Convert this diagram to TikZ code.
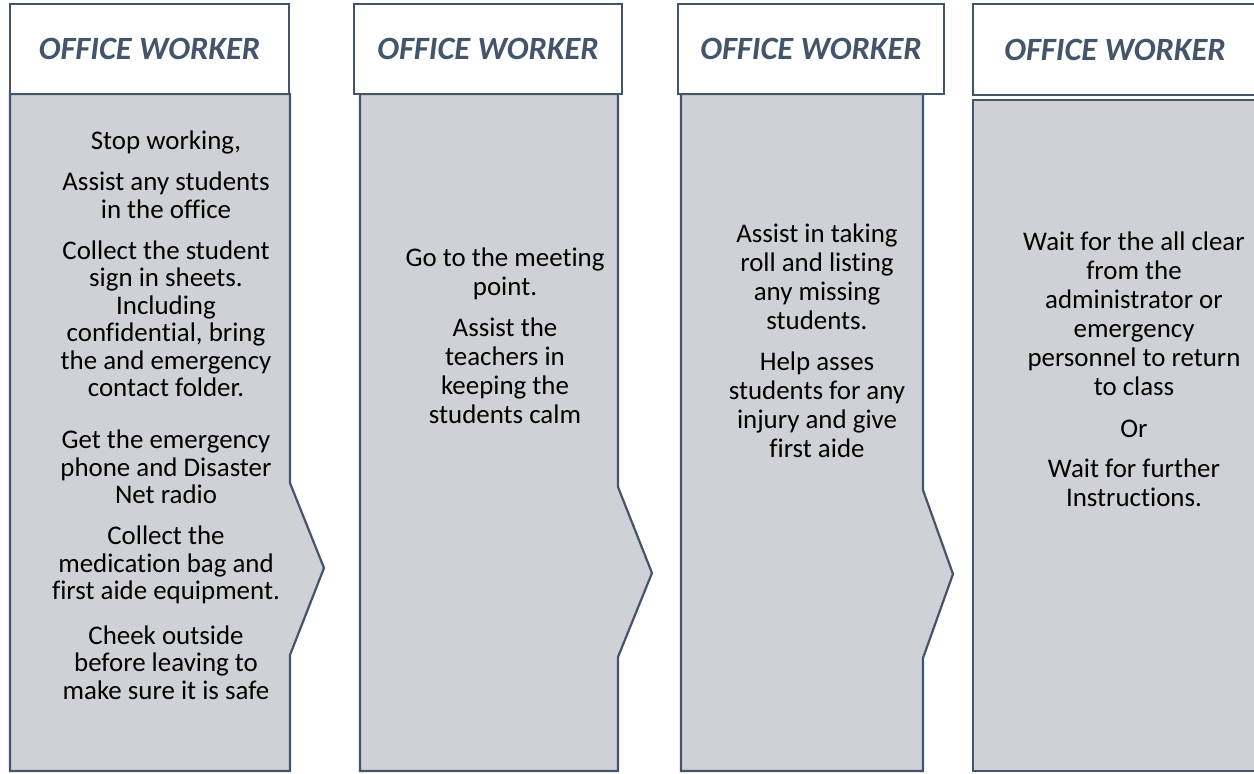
\documentclass[tikz,border=0pt]{standalone}
\usepackage{fontspec}
\setmainfont{Carlito}[Ligatures = NoCommon]

\definecolor{slate}{RGB}{68,84,106}
\definecolor{panel}{RGB}{208,209,214}

\begin{document}
\begin{tikzpicture}[
    x = 1pt, y = -1pt,
    head/.style = {
        draw = slate, line width = 2.2pt, fill = white, rectangle, inner sep = 0pt,
        text = slate, font = \fontsize{32.5}{36}\selectfont\bfseries\itshape
    },
    stepbody/.style = {draw = slate, line width = 2.2pt, fill = panel},
    steps/.style = {
        align = center, inner sep = 0pt, anchor = north, text = black,
        font = \fontsize{26.9}{29}\selectfont
    },
  ]
  \clip (0,0) rectangle (1254,774);
  \begin{scope}[
        xshift = 10pt
    ]
    \draw[stepbody] (0,94) -- (0,771) -- (280,771) -- (280,655)
        -- (314,568) -- (280,483) -- (280,94) -- cycle;

    \node[
        head, minimum width = 279pt, minimum height = 90pt
    ] (head1) at (139.5,49) {OFFICE WORKER};

    \node[
        steps, font = \fontsize{26.9}{27.5}\selectfont
    ] (text1) at (156,131) {Stop working,\\[13.5pt]
        Assist any students\\ in the office\\[13.5pt]
        Collect the student\\ sign in sheets.\\ Including\\ confidential, bring\\ the and emergency\\ contact folder.\\[24.5pt]
        Get the emergency\\ phone and Disaster\\ Net radio\\[13.5pt]
        Collect the\\ medication bag and\\ first aide equipment.\\[17pt]
        Cheek outside\\ before leaving to\\ make sure it is safe};
  \end{scope}
  \begin{scope}[
        xshift = 360pt
    ]
    \draw[stepbody] (0,94) -- (0,771) -- (258,771) -- (258,657)
        -- (292,573) -- (258,487) -- (258,94) -- cycle;

    \node[
        head, minimum width = 268pt, minimum height = 90pt
    ] (head2) at (128,49) {OFFICE WORKER};

    \node[steps] (text2) at (145,248) {Go to the meeting\\ point.\\[12pt]
        Assist the\\ teachers in\\ keeping the\\ students calm};
  \end{scope}
  \begin{scope}[
        xshift = 681pt
    ]
    \draw[stepbody] (0,94) -- (0,771) -- (242,771) -- (242,658)
        -- (272,574) -- (242,490) -- (242,94) -- cycle;

    \node[
        head, minimum width = 266pt, minimum height = 90pt
    ] (head3) at (130,49) {OFFICE WORKER};

    \node[steps] (text3) at (136,224) {Assist in taking\\ roll and listing\\ any missing\\ students.\\[12pt]
        Help asses\\ students for any\\ injury and give\\ first aide};
  \end{scope}
  \begin{scope}[
        xshift = 973pt
    ]
    \draw[stepbody] (0,100) -- (0,771) -- (286,771) -- (286,100) -- cycle;

    \node[
        head, minimum width = 284pt, minimum height = 91pt
    ] (head4) at (142,49.5) {OFFICE WORKER};

    \node[steps] (text4) at (161,232) {Wait for the all clear\\ from the\\ administrator or\\ emergency\\ personnel to return\\ to class\\[13pt]
        Or\\[11pt]
        Wait for further\\ Instructions.};
  \end{scope}
\end{tikzpicture}
\end{document}
